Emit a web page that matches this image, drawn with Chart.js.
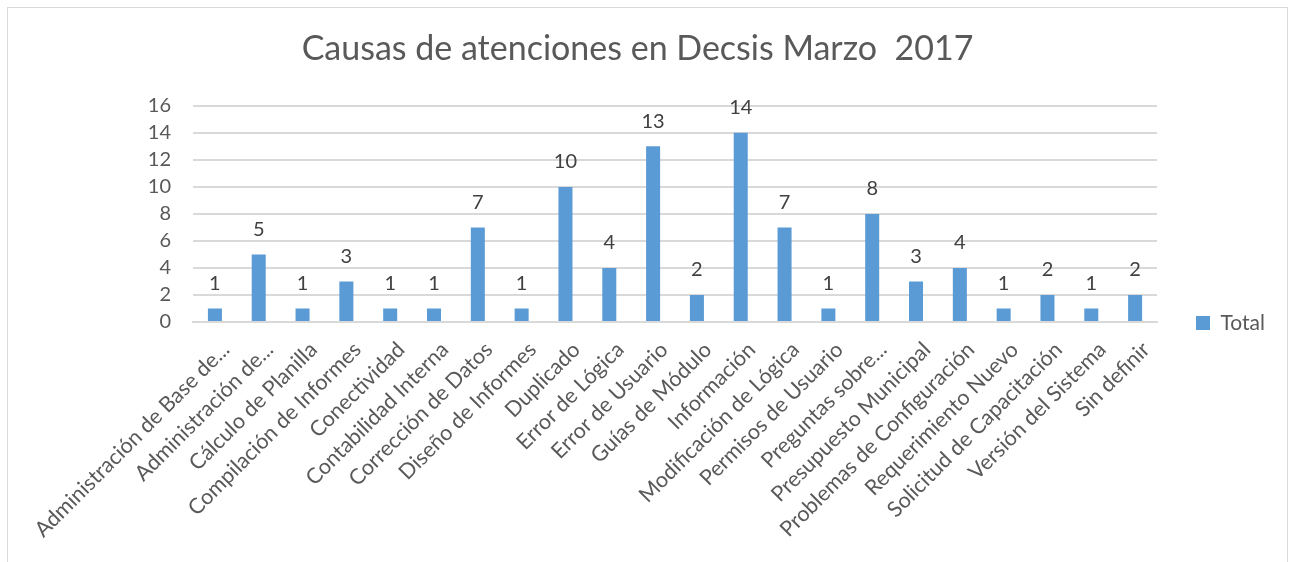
<!DOCTYPE html>
<html>
<head>
<meta charset="utf-8">
<script src="https://cdn.jsdelivr.net/npm/chart.js@4"></script>
<style>
    body { margin: 0; background: #fff; }
    #wrap { position: relative; width: 1292px; height: 562px; }
    #frame { position: absolute; left: 7px; top: 7px; width: 1281px; height: 560px; border: 1px solid #d9d9d9; box-sizing: border-box; pointer-events: none; }
</style>
</head>
<body>
<div id="wrap">
    <canvas id="causasChart" width="1292" height="562"></canvas>
    <div id="frame"></div>
</div>
<script>
const categories = [
    "Administración de Base de...",
    "Administración de...",
    "Cálculo de Planilla",
    "Compilación de Informes",
    "Conectividad",
    "Contabilidad Interna",
    "Corrección de Datos",
    "Diseño de Informes",
    "Duplicado",
    "Error de Lógica",
    "Error de Usuario",
    "Guías de Módulo",
    "Información",
    "Modificación de Lógica",
    "Permisos de Usuario",
    "Preguntas sobre...",
    "Presupuesto Municipal",
    "Problemas de Configuración",
    "Requerimiento Nuevo",
    "Solicitud de Capacitación",
    "Versión del Sistema",
    "Sin definir"
];
const totals = [1, 5, 1, 3, 1, 1, 7, 1, 10, 4, 13, 2, 14, 7, 1, 8, 3, 4, 1, 2, 1, 2];
const yTicks = [0, 2, 4, 6, 8, 10, 12, 14, 16];

const FONT = "Lato, 'Open Sans', sans-serif";

// draws the value above each bar
const valueLabels = {
    id: 'valueLabels',
    afterDatasetsDraw(chart) {
        const c = chart.ctx;
        const meta = chart.getDatasetMeta(0);
        c.save();
        c.font = "20px " + FONT;
        c.fillStyle = "#404040";
        c.textAlign = "center";
        c.textBaseline = "middle";
        meta.data.forEach((bar, i) => {
            c.fillText(totals[i], bar.x, bar.y - 25);
        });
        c.restore();
    }
};

const ctx = document.getElementById('causasChart').getContext('2d');
const causasChart = new Chart(ctx, {
    type: 'bar',
    data: {
        labels: categories,
        datasets: [{
            label: 'Total',
            data: totals,
            backgroundColor: '#5b9bd5',
            barPercentage: 0.32,
            categoryPercentage: 1
        }]
    },
    options: {
        responsive: false,
        animation: false,
        layout: { padding: { left: 0, right: 17, top: 0, bottom: 0 } },
        plugins: {
            title: {
                display: true,
                text: 'Causas de atenciones en Decsis Marzo  2017',
                color: '#595959',
                font: { family: FONT, size: 34, weight: '400' },
                padding: { top: 29, bottom: 36 }
            },
            legend: {
                position: 'right',
                title: { display: true, text: ' ', font: { size: 10 }, padding: { top: 0, bottom: 72 } },
                labels: {
                    color: '#595959',
                    font: { family: FONT, size: 21 },
                    boxWidth: 14,
                    boxHeight: 14,
                    padding: 39
                }
            },
            tooltip: { enabled: false }
        },
        scales: {
            x: {
                afterFit: (s) => { s.height = 240; },
                grid: { display: false, drawTicks: false },
                border: { color: '#d9d9d9', width: 2 },
                ticks: {
                    autoSkip: false,
                    maxRotation: 45,
                    minRotation: 45,
                    padding: 15,
                    labelOffset: 11,
                    color: '#595959',
                    font: { family: FONT, size: 21.5 }
                }
            },
            y: {
                min: 0,
                max: 16,
                afterFit: (s) => { s.width = 193; },
                afterBuildTicks: (s) => { s.ticks = yTicks.map(v => ({ value: v })); },
                grid: { color: '#d9d9d9', lineWidth: 2, drawTicks: false },
                border: { display: false },
                ticks: {
                    padding: 22,
                    color: '#595959',
                    font: { family: FONT, size: 20 }
                }
            }
        }
    },
    plugins: [valueLabels]
});
</script>
</body>
</html>
